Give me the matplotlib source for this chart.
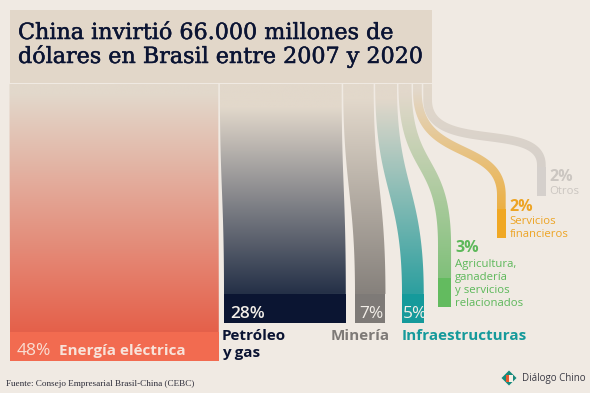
import numpy as np
import matplotlib
matplotlib.use("Agg")
import matplotlib.pyplot as plt
from matplotlib.patches import Polygon, Rectangle
from matplotlib.colors import to_rgb
import matplotlib.patheffects as pe

# ---------------- data ----------------
sectors = ["Energía eléctrica", "Petróleo\ny gas", "Minería", "Infraestructuras",
           "Agricultura,\nganadería\ny servicios\nrelacionados",
           "Servicios\nfinancieros", "Otros"]
shares = [48, 28, 7, 5, 3, 2, 2]
share_labels = ["48%", "28%", "7%", "5%", "3%", "2%", "2%"]
title_lines = ["China invirtió 66.000 millones de",
               "dólares en Brasil entre 2007 y 2020"]
source_text = "Fuente: Consejo Empresarial Brasil-China (CEBC)"
brand_text = "Diálogo Chino"

# ---------------- style ----------------
BG = "#F0EAE3"
BEIGE = "#E2D8CB"
TITLE_BOX = "#E2D7C9"
NAVY = "#0B1433"
flow_colors = ["#E5604A", "#243047", "#86817C", "#2C9F9F", "#80C07A", "#ECB044", "#D6D0CA"]
box_colors = ["#F26B50", "#0B1532", "#7E7A77", "#159A9B", "#63BB5F", "#F0A824", "#D5D0CC"]
text_colors = ["#F8E3DA", NAVY, "#7E7A77", "#159A9B", "#5DB85A", "#EDA424", "#CBC6C1"]
SANS = ["Open Sans", "DejaVu Sans"]
SERIF = ["DejaVu Serif"]

# ---------------- layout ----------------
PX_PER_PCT = 4.35
Y_TOP = 84
BOX_H = 29
TOP_GAP = 1.2
box_top = [332, 294, 294, 294, 278, 209, 167]
end_left = [10, 224, 355, 402, 438, 497, 537]
# (y where curve starts, y where curve ends, ctrl1, ctrl2, gradient start)
curve = [(84, 332, 100, 100, 95),
         (84, 294, 100, 100, 108),
         (84, 294, 100, 100, 100),
         (84, 294, 105, 105, 100),
         (84, 245, 90, 90, 95),
         (92, 195, 70, 55, 90),
         (100, 165, 55, 45, 90)]

fig = plt.figure(figsize=(5.9, 3.93), dpi=100, facecolor=BG)
ax = fig.add_axes([0, 0, 1, 1])
ax.set_facecolor(BG)
ax.axis("off")

# title box
ax.add_patch(Rectangle((10, 10), 422, 73, facecolor=TITLE_BOX, edgecolor="none", zorder=1))

widths = [s * PX_PER_PCT for s in shares]
top_left = []
x = 9.5
for w in widths:
    top_left.append(x)
    x += w + TOP_GAP
# shift so the last flow hugs the title box edge
shift = 432 - (top_left[-1] + widths[-1])
top_left = [t + shift * (k / (len(top_left) - 1)) for k, t in enumerate(top_left)]


def bez(p0, p1, p2, p3, n=120):
    t = np.linspace(0, 1, n)[:, None]
    return ((1 - t) ** 3) * p0 + 3 * ((1 - t) ** 2) * t * p1 + 3 * (1 - t) * t ** 2 * p2 + t ** 3 * p3


for i, w in enumerate(widths):
    ct = top_left[i] + w / 2
    cb = end_left[i] + w / 2
    ya, yb, c1, c2, g0 = curve[i]
    y1 = box_top[i]
    pts = []
    if ya > Y_TOP:
        pts.append(np.column_stack([np.full(20, ct), np.linspace(Y_TOP, ya, 20)])[:-1])
    pts.append(bez(np.array([ct, ya]), np.array([ct, ya + c1]),
                   np.array([cb, yb - c2]), np.array([cb, yb])))
    if y1 > yb:
        pts.append(np.column_stack([np.full(20, cb), np.linspace(yb, y1, 20)])[1:])
    P = np.vstack(pts)
    d = np.gradient(P, axis=0)
    d /= np.linalg.norm(d, axis=1)[:, None]
    nrm = np.column_stack([-d[:, 1], d[:, 0]])
    left = P + nrm * w / 2
    right = P - nrm * w / 2
    poly = np.vstack([left, right[::-1]])
    patch = Polygon(poly, closed=True, facecolor="none", edgecolor="none")
    ax.add_patch(patch)
    # vertical gradient
    ys = np.linspace(Y_TOP, y1, 300)
    tt = np.clip((ys - g0) / (y1 - g0), 0, 1)
    c_top = np.array(to_rgb(BEIGE))
    c_bot = np.array(to_rgb(flow_colors[i]))
    img = (1 - tt)[:, None] * c_top + tt[:, None] * c_bot
    img = img[:, None, :]
    xmin, xmax = poly[:, 0].min() - 1, poly[:, 0].max() + 1
    im = ax.imshow(img, extent=(xmin, xmax, y1 + 0.5, Y_TOP), origin="upper",
                   aspect="auto", interpolation="bilinear", zorder=2)
    im.set_clip_path(patch)
    # solid box
    ax.add_patch(Rectangle((end_left[i], y1), w, BOX_H, facecolor=box_colors[i],
                           edgecolor="none", zorder=3))


def lines(x, y, txt, step, **kw):
    for k, ln in enumerate(txt.split("\n")):
        ax.text(x, y + k * step, ln, va="baseline", **kw)


LBL = 11
# Energía
ax.text(end_left[0] + 7, 355, share_labels[0], color="#F9DED3", fontsize=12.5,
        family=SANS, va="baseline", zorder=5)
ax.text(end_left[0] + 49, 355, sectors[0], color=text_colors[0], fontsize=LBL,
        family=SANS, fontweight="bold", va="baseline", zorder=5)
# Petróleo
ax.text(end_left[1] + 6, 318, share_labels[1], color="#F2EEE8", fontsize=12.5,
        family=SANS, fontweight="semibold", va="baseline", zorder=5)
lines(end_left[1] - 2, 340, sectors[1], 17, color=text_colors[1], fontsize=LBL,
      family=SANS, fontweight="bold", zorder=5)
# Minería
mr = end_left[2] + widths[2]
ax.text(mr - 2, 318, share_labels[2], color="#F2EEE8", fontsize=12.5, family=SANS,
        ha="right", va="baseline", zorder=5)
ax.text(mr + 4, 340, sectors[2], color=text_colors[2], fontsize=LBL, family=SANS,
        fontweight="bold", ha="right", va="baseline", zorder=5)
# Infra
ax.text(end_left[3] + 1, 318, share_labels[3], color="#F2EEE8", fontsize=12.5,
        family=SANS, va="baseline", zorder=5)
ax.text(end_left[3], 340, sectors[3], color=text_colors[3], fontsize=LBL, family=SANS,
        fontweight="bold", va="baseline", zorder=5)
# Small sectors
for i, (ypct, yname) in zip([4, 5, 6], [(252, 267), (211, 224), (181, 194)]):
    xl = end_left[i] + widths[i] + 4
    ax.text(xl, ypct, share_labels[i], color=text_colors[i], fontsize=11.5,
            family=SANS, fontweight="bold", va="baseline", zorder=5)
    lines(xl, yname, sectors[i], 13, color=text_colors[i], fontsize=8.2,
          family=SANS, zorder=5)

# title with width fitting
fig.canvas.draw()
r = fig.canvas.get_renderer()
stroke = [pe.withStroke(linewidth=0.35, foreground=NAVY)]
t2 = ax.text(18, 63, title_lines[1], fontsize=16, color=NAVY, family=SERIF,
             va="baseline", zorder=5, path_effects=stroke)
w2 = t2.get_window_extent(r).width
fs = 16 * 406 / w2
t2.set_fontsize(fs)
ax.text(18, 39, title_lines[0], fontsize=fs, color=NAVY, family=SERIF,
        va="baseline", zorder=5, path_effects=stroke)

# footer
ax.text(6, 386, source_text, fontsize=6.6, color="#2B2B38", family="Liberation Serif",
        va="baseline")
cx, cy, s = 509, 378, 7.5
ax.add_patch(Polygon([[cx - s, cy], [cx, cy - s], [cx + s, cy], [cx, cy + s]],
                     closed=True, facecolor="#168A7C", edgecolor="none"))
ax.add_patch(Rectangle((cx - 3.5, cy - 3.5), 3.5, 7, facecolor="#E8582E", edgecolor="none"))
ax.add_patch(Rectangle((cx, cy - 3.5), 3.5, 7, facecolor="#F4F0E8", edgecolor="none"))
ax.text(522, 381, brand_text, fontsize=7, color="#3A3A44", family=SANS, va="baseline")

ax.set_xlim(0, 590)
ax.set_ylim(393, 0)
fig.savefig("out.png", dpi=100, facecolor=BG)
